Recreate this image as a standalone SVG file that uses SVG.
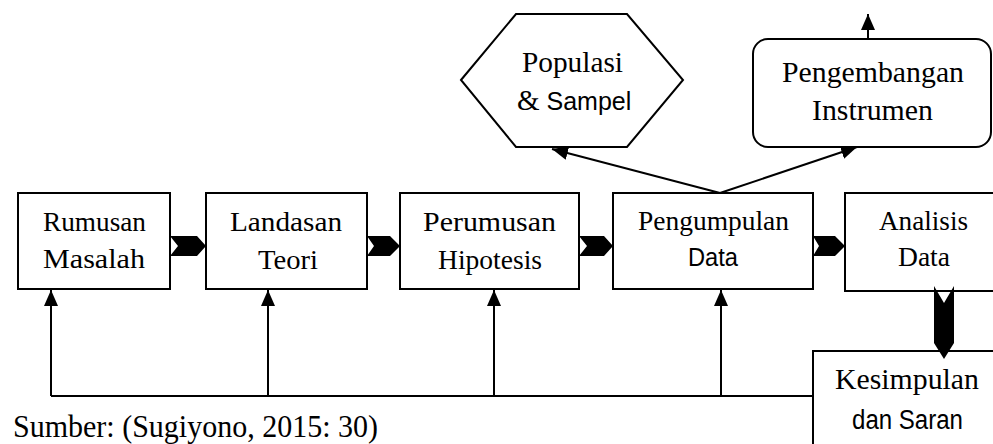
<svg xmlns="http://www.w3.org/2000/svg" width="993" height="444" viewBox="0 0 993 444">
<defs>
<style>
.box{fill:#fff;stroke:#000;stroke-width:2}
.ln{fill:none;stroke:#000;stroke-width:2}
.chev{fill:#000;stroke:none}
.serif{font-family:"Liberation Serif","Times New Roman",serif;fill:#000}
.sans{font-family:"Liberation Sans",Arial,sans-serif;fill:#000}
</style>
<marker id="ah" markerUnits="userSpaceOnUse" markerWidth="16" markerHeight="16" viewBox="0 0 16 16" refX="16" refY="8" orient="auto">
<path d="M0,1 L16,8 L0,15 Z" fill="#000"/>
</marker>
</defs>
<rect width="993" height="444" fill="#fff"/>

<g id="connectors">
<path class="ln" d="M51,396 H812"/>
<path class="ln" d="M51,396 V290" marker-end="url(#ah)"/>
<path class="ln" d="M268,396 V290" marker-end="url(#ah)"/>
<path class="ln" d="M494,396 V290" marker-end="url(#ah)"/>
<path class="ln" d="M721,396 V290" marker-end="url(#ah)"/>
<path class="ln" d="M720,193 L552,149" marker-end="url(#ah)"/>
<path class="ln" d="M720,193 L857,147" marker-end="url(#ah)"/>
<path class="ln" d="M868,39 V14" marker-end="url(#ah)"/>
</g>

<g id="node-rumusan">
<rect class="box" x="18" y="193" width="152" height="96"/>
<text class="serif" x="43" y="231" font-size="27" textLength="103" lengthAdjust="spacingAndGlyphs">Rumusan</text>
<text class="serif" x="43" y="268" font-size="27" textLength="102" lengthAdjust="spacingAndGlyphs">Masalah</text>
</g>
<g id="node-landasan">
<rect class="box" x="206" y="193" width="161" height="96"/>
<text class="serif" x="230" y="231" font-size="27" textLength="112" lengthAdjust="spacingAndGlyphs">Landasan</text>
<text class="serif" x="258" y="269" font-size="27" textLength="60" lengthAdjust="spacingAndGlyphs">Teori</text>
</g>
<g id="node-perumusan">
<rect class="box" x="400" y="193" width="179" height="96"/>
<text class="serif" x="423" y="231" font-size="27" textLength="133" lengthAdjust="spacingAndGlyphs">Perumusan</text>
<text class="serif" x="438" y="269" font-size="27" textLength="104" lengthAdjust="spacingAndGlyphs">Hipotesis</text>
</g>
<g id="node-pengumpulan">
<rect class="box" x="613" y="193" width="200" height="96"/>
<text class="serif" x="638" y="230" font-size="27" textLength="151" lengthAdjust="spacingAndGlyphs">Pengumpulan</text>
<text class="sans" x="688" y="266" font-size="25" textLength="50" lengthAdjust="spacingAndGlyphs">Data</text>
</g>
<g id="node-analisis">
<rect class="box" x="845" y="193" width="160" height="98"/>
<text class="serif" x="879" y="230" font-size="27" textLength="89" lengthAdjust="spacingAndGlyphs">Analisis</text>
<text class="serif" x="898" y="266" font-size="27" textLength="52" lengthAdjust="spacingAndGlyphs">Data</text>
</g>
<g id="node-populasi">
<polygon class="box" points="461,80 516,14 627,14 683,80 627,147 516,147"/>
<text class="serif" x="522" y="72" font-size="28.5" textLength="101" lengthAdjust="spacingAndGlyphs">Populasi</text>
<text x="517" y="110"><tspan class="serif" font-size="29">&amp;</tspan><tspan class="sans" font-size="25"> Sampel</tspan></text>
</g>
<g id="node-instrumen">
<rect class="box" x="753" y="39" width="238" height="108" rx="15" ry="15"/>
<text class="serif" x="782" y="82" font-size="28.5" textLength="182" lengthAdjust="spacingAndGlyphs">Pengembangan</text>
<text class="serif" x="812" y="120" font-size="28.5" textLength="121" lengthAdjust="spacingAndGlyphs">Instrumen</text>
</g>
<g id="node-kesimpulan">
<rect class="box" x="813" y="351" width="200" height="110"/>
<text class="serif" x="835" y="389" font-size="29" textLength="144" lengthAdjust="spacingAndGlyphs">Kesimpulan</text>
<text class="sans" x="852" y="429" font-size="27" textLength="111" lengthAdjust="spacingAndGlyphs">dan Saran</text>
</g>

<g id="flow-chevrons">
<polygon class="chev" points="170,236 197,236 206,246 197,256 170,256 178,246"/>
<polygon class="chev" points="367,236 390,236 400,246 390,256 367,256 374,246"/>
<polygon class="chev" points="579,236 604,236 613,246 604,256 579,256 587,246"/>
<polygon class="chev" points="813,236 835,236 845,246 835,256 813,256 819,246"/>
<polygon class="chev" points="934,286 944,303 954,286 954,343 944,359 934,343"/>
</g>

<text id="source" class="serif" x="13" y="437" font-size="32" textLength="365" lengthAdjust="spacingAndGlyphs">Sumber: (Sugiyono, 2015: 30)</text>
</svg>
